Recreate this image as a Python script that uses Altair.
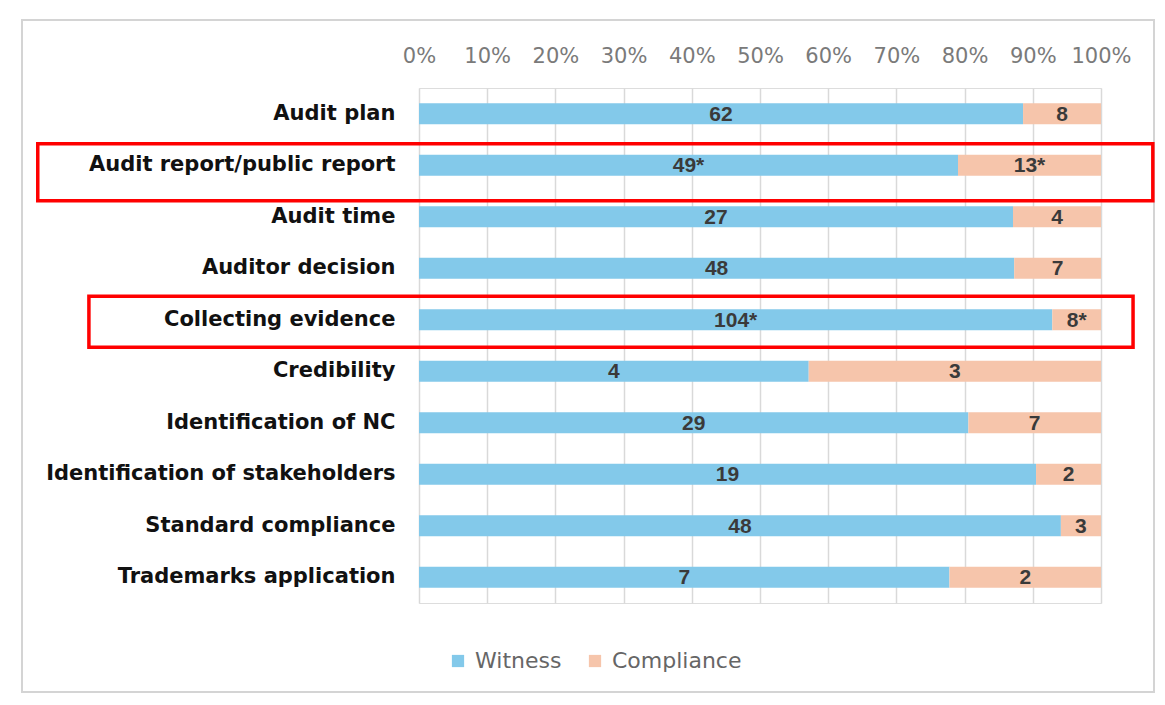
import altair as alt
import pandas as pd

categories = ["Audit plan", "Audit report/public report", "Audit time", "Auditor decision",
              "Collecting evidence", "Credibility", "Identification of NC",
              "Identification of stakeholders", "Standard compliance", "Trademarks application"]
witness = [62, 49, 27, 48, 104, 4, 29, 19, 48, 7]
compliance = [8, 13, 4, 7, 8, 3, 7, 2, 3, 2]
witness_labels = ["62", "49*", "27", "48", "104*", "4", "29", "19", "48", "7"]
compliance_labels = ["8", "13*", "4", "7", "8*", "3", "7", "2", "3", "2"]
series = ["Witness", "Compliance"]
colors = ["#83C9EA", "#F6C5AB"]

# highlighted rows (annotation boxes), x extents in share units
box_rows = ["Audit report/public report", "Collecting evidence"]
box_x0 = [-0.559, -0.484]
box_x1 = [1.076, 1.047]

rows = []
for i, c in enumerate(categories):
    tot = witness[i] + compliance[i]
    rows.append({"cat": c, "series": "Witness", "order": 0, "count": witness[i],
                 "label": witness_labels[i], "start": 0.0, "end": witness[i] / tot})
    rows.append({"cat": c, "series": "Compliance", "order": 1, "count": compliance[i],
                 "label": compliance_labels[i], "start": witness[i] / tot, "end": 1.0})
df = pd.DataFrame(rows)
df["mid"] = (df["start"] + df["end"]) / 2

boxes = pd.DataFrame({"cat": box_rows, "x0": box_x0, "x1": box_x1})

W, H = 682, 515
ysc = alt.Scale(domain=categories, paddingInner=0, paddingOuter=0)
xsc = alt.Scale(domain=[0, 1], nice=False)

bars = alt.Chart(df).mark_bar(size=21).encode(
    y=alt.Y("cat:N", sort=categories, scale=ysc, title=None,
            axis=alt.Axis(labelFontSize=21, labelFontWeight="bold", labelColor="#111111",
                          labelFont="DejaVu Sans", labelPadding=24, ticks=False, domain=False,
                          labelLimit=400)),
    x=alt.X("start:Q", scale=xsc, title=None,
            axis=alt.Axis(orient="top", format="%", values=[i / 10 for i in range(11)],
                          labelFontSize=21, labelColor="#7a7a7a", labelFont="DejaVu Sans",
                          labelPadding=22, ticks=False, domain=False, grid=True,
                          labelOverlap=False, labelFlush=False,
                          gridColor="#d9d9d9", gridWidth=1.5)),
    x2="end:Q",
    color=alt.Color("series:N", scale=alt.Scale(domain=series, range=colors),
                    sort=series,
                    legend=alt.Legend(title=None, orient="none", legendX=28, legendY=562,
                                      direction="horizontal", symbolType="square",
                                      symbolSize=150, symbolStrokeWidth=0,
                                      labelFontSize=22, labelColor="#666666",
                                      labelFont="DejaVu Sans", columnPadding=22,
                                      labelOffset=6, labelLimit=300)),
    order="order:Q",
)

texts = alt.Chart(df).mark_text(fontSize=21, fontWeight="bold", font="Liberation Sans",
                                color="#3a3a3a", baseline="middle", dy=1).encode(
    y=alt.Y("cat:N", sort=categories, scale=ysc),
    x=alt.X("mid:Q", scale=xsc),
    text="label:N",
)

box1 = alt.Chart(boxes[boxes.cat == box_rows[0]]).mark_rect(
    fill=None, stroke="#FF0000", strokeWidth=3.5, height=57, yOffset=7).encode(
    y=alt.Y("cat:N", sort=categories, scale=ysc),
    x=alt.X("x0:Q", scale=xsc), x2="x1:Q",
)
box2 = alt.Chart(boxes[boxes.cat == box_rows[1]]).mark_rect(
    fill=None, stroke="#FF0000", strokeWidth=3.5, height=51, yOffset=2).encode(
    y=alt.Y("cat:N", sort=categories, scale=ysc),
    x=alt.X("x0:Q", scale=xsc), x2="x1:Q",
)

frame = alt.Chart(pd.DataFrame({"a": [0]})).mark_rect(
    fill=None, stroke="#d4d4d4", strokeWidth=2).encode(
    x=alt.value(-397), x2=alt.value(735), y=alt.value(-68), y2=alt.value(604),
)

chart = alt.layer(frame, bars, texts, box1, box2).properties(
    width=W, height=H,
    autosize=alt.AutoSizeParams(type="none"),
    padding={"left": 411, "top": 80, "right": 56, "bottom": 92},
).configure_view(stroke=None).configure(background="white")

chart.save("out.html", embed_options={"renderer": "svg", "actions": False})
